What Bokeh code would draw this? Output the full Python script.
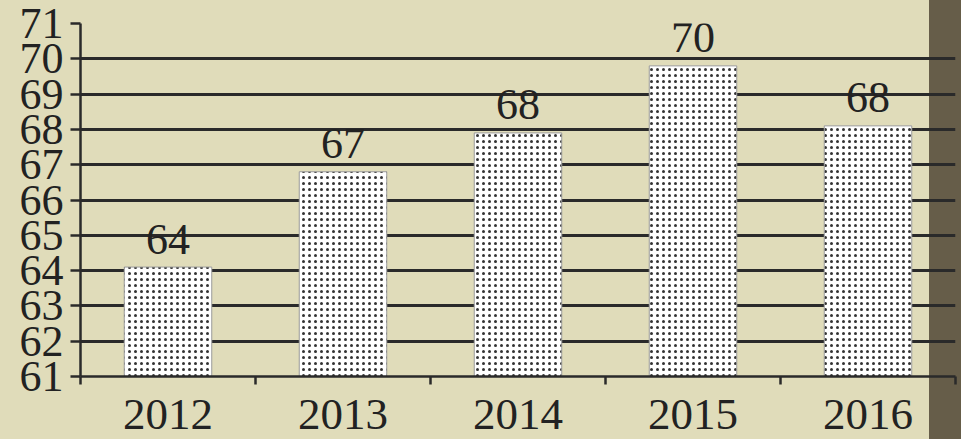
from bokeh.plotting import figure
from bokeh.models import Range1d, FixedTicker
from bokeh.core.properties import value
from bokeh.embed import file_html
from bokeh.resources import INLINE

years = ["2012", "2013", "2014", "2015", "2016"]
values = [64.1, 66.8, 67.9, 69.8, 68.1]
labels = ["64", "67", "68", "70", "68"]
y_ticks = list(range(61, 72))

x = list(range(len(years)))
bound_ticks = [i - 0.5 for i in x] + [len(x) - 0.5]

BG = "#E0DCBA"
STRIP = "#665D49"
INK = "#2a2a2a"
FONT = "Liberation Serif"

p = figure(width=961, height=439,
           x_range=Range1d(-0.5, len(x) - 0.5), y_range=Range1d(y_ticks[0], y_ticks[-1]),
           output_backend="svg", toolbar_location=None,
           min_border_left=80, min_border_right=6, min_border_top=23, min_border_bottom=63)
p.background_fill_alpha = 0
p.border_fill_alpha = 0
p.outline_line_color = None

p.xgrid.visible = False
p.ygrid.ticker = FixedTicker(ticks=y_ticks)
p.ygrid.grid_line_color = INK
p.ygrid.grid_line_width = 3

p.vbar(x=x, top=values, bottom=y_ticks[0], width=0.5,
       fill_color="white", line_color="#9a9a9a", line_width=1,
       hatch_pattern="dot", hatch_color="#333333", hatch_scale=6, hatch_weight=1)

p.text(x=x, y=values, text=labels, text_font=value(FONT), text_font_size="44px",
       text_align="center", text_baseline="alphabetic", y_offset=-28, text_color="#222222")

ya = p.yaxis[0]
ya.ticker = FixedTicker(ticks=y_ticks)
ya.axis_line_color = INK
ya.axis_line_width = 2.5
ya.major_tick_line_color = INK
ya.major_tick_line_width = 2.5
ya.major_tick_out = 10
ya.major_tick_in = 0
ya.minor_tick_line_color = None
ya.major_label_text_font = FONT
ya.major_label_text_font_size = "44px"
ya.major_label_text_color = "#222222"
ya.major_label_standoff = 7

xa = p.xaxis[0]
xa.ticker = FixedTicker(ticks=x, minor_ticks=bound_ticks)
xa.major_label_overrides = {i: years[i] for i in x}
xa.axis_line_color = INK
xa.axis_line_width = 2.5
xa.major_tick_line_color = None
xa.major_tick_out = 0
xa.major_tick_in = 0
xa.minor_tick_line_color = INK
xa.minor_tick_line_width = 2.5
xa.minor_tick_out = 8
xa.minor_tick_in = 0
xa.major_label_text_font = FONT
xa.major_label_text_font_size = "45px"
xa.major_label_text_color = "#222222"
xa.major_label_standoff = 15

html = file_html(p, INLINE)
style = ("<style>html,body{background:linear-gradient(to right, %s 929px, %s 929px);}</style>"
         % (BG, STRIP))
html = html.replace("</head>", style + "</head>", 1)
open("out.html", "w").write(html)
